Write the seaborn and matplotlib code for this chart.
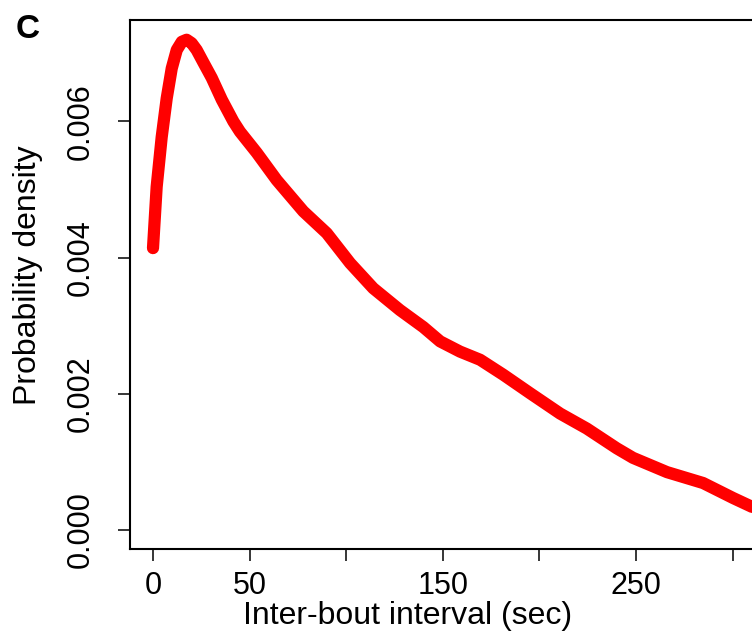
import matplotlib
matplotlib.use("Agg")
import matplotlib.pyplot as plt
import seaborn as sns
import pandas as pd

# density curve
interval_sec = [0, 1.9, 4.5, 7.1, 9.7, 12.3, 14.9, 17.4, 20.0, 22.6, 26.0, 30.4,
                35.6, 41.6, 45.0, 53.7, 64.0, 77.8, 89.9, 102.0, 114.0, 127.8,
                139.9, 148.6, 158.9, 169.3, 181.3, 195.1, 210.7, 224.5, 240.0,
                248.4, 266.0, 284.7, 300.2, 310.0]
density = [0.00414, 0.00504, 0.00577, 0.00634, 0.00678, 0.00705, 0.00717, 0.00720,
           0.00715, 0.00705, 0.00687, 0.00664, 0.00632, 0.00600, 0.00585, 0.00554,
           0.00514, 0.00468, 0.00436, 0.00392, 0.00355, 0.00323, 0.00298, 0.00277,
           0.00262, 0.00250, 0.00228, 0.00201, 0.00171, 0.00149, 0.00120, 0.00106,
           0.00085, 0.00069, 0.00047, 0.00034]

x_ticks = [0, 50, 100, 150, 200, 250, 300]
x_tick_labels = ["0", "50", "", "150", "", "250", ""]
y_ticks = [0.000, 0.002, 0.004, 0.006]
y_tick_labels = ["0.000", "0.002", "0.004", "0.006"]

df = pd.DataFrame({"interval": interval_sec, "density": density})

sns.set_style("white")
plt.rcParams["font.family"] = ["Liberation Sans", "DejaVu Sans"]
for key in ["text.color", "axes.labelcolor", "xtick.color", "ytick.color", "axes.edgecolor"]:
    plt.rcParams[key] = "black"

W, H = 752, 636
fig = plt.figure(figsize=(W / 100, H / 100), dpi=100)
left, right, top, bottom = 130, 752, 20, 549
ax = fig.add_axes([left / W, 1 - bottom / H, (right - left) / W, (bottom - top) / H])

sns.lineplot(data=df, x="interval", y="density", color="#ff0000", linewidth=8.8,
             ax=ax, solid_capstyle="round", solid_joinstyle="round")

ax.set_xlim(-11.9, 310.0)
ax.set_ylim(-0.000279, 0.00749)

ax.set_xticks(x_ticks)
ax.set_xticklabels(x_tick_labels)
ax.set_yticks(y_ticks)
ax.set_yticklabels(y_tick_labels, rotation=90, va="center")

ax.tick_params(axis="both", direction="out", length=8.6, width=1.1, color="black",
               labelsize=22, labelcolor="black", left=True, bottom=True)
ax.tick_params(axis="x", pad=7)
ax.tick_params(axis="y", pad=16)

for side in ["left", "bottom", "top"]:
    ax.spines[side].set_visible(True)
    ax.spines[side].set_color("black")
    ax.spines[side].set_linewidth(1.5)
ax.spines["right"].set_visible(False)

ax.set_xlabel("Inter-bout interval (sec)", fontsize=23, color="black")
ax.set_ylabel("Probability density", fontsize=23, color="black")
ax.xaxis.set_label_coords((408 - left) / (right - left), (bottom - 601) / (bottom - top))
ax.yaxis.set_label_coords((43 - left) / (right - left), (bottom - 275) / (bottom - top))

fig.text(27.5 / W, 1 - 30 / H, "C", fontsize=24, fontweight="bold", ha="center", va="center")

fig.savefig("out.png", dpi=100)
